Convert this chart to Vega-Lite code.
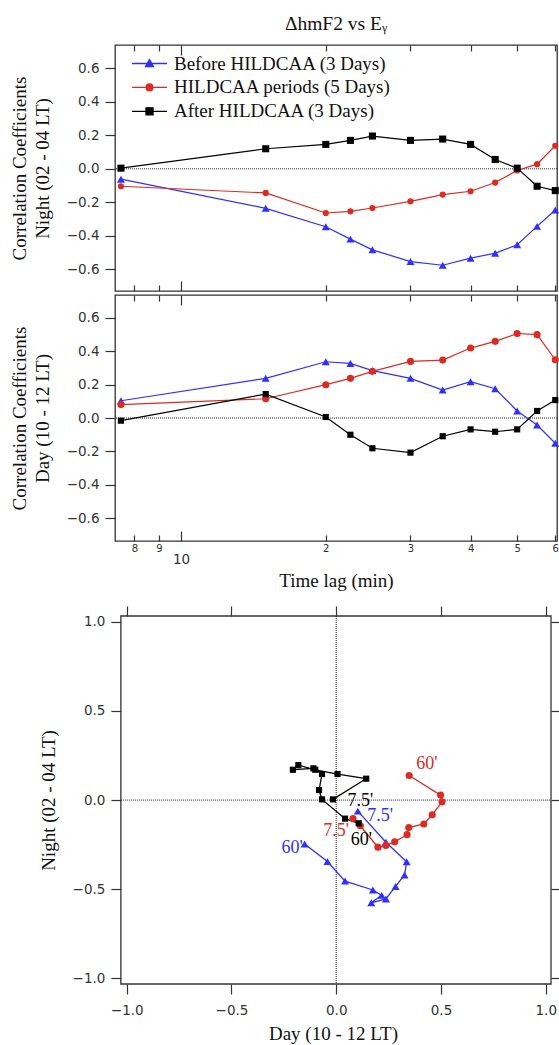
{
  "$schema": "https://vega.github.io/schema/vega-lite/v6.json",
  "background": "white",
  "padding": {"left": 10, "top": 13, "right": 0, "bottom": 0},
  "config": {
    "view": {"stroke": "#333333", "strokeWidth": 1.3},
    "axis": {"domain": false, "grid": false, "tickColor": "#333333", "tickWidth": 1.2, "labelFont": "DejaVu Sans", "labelFontSize": 13.5, "labelColor": "#333333", "titleFont": "Liberation Serif", "titleFontSize": 19, "titleFontWeight": "normal", "titleColor": "#111111", "labelFlush": false, "labelOverlap": false},
    "title": {"font": "Liberation Serif", "fontWeight": "normal", "fontSize": 19.5, "color": "#111111"}
  },
  "datasets": {
    "corr": [
      {"lag": 7.5, "series": "Before HILDCAA (3 Days)", "night": -0.062, "day": 0.103},
      {"lag": 15, "series": "Before HILDCAA (3 Days)", "night": -0.236, "day": 0.237},
      {"lag": 20, "series": "Before HILDCAA (3 Days)", "night": -0.346, "day": 0.336},
      {"lag": 22.5, "series": "Before HILDCAA (3 Days)", "night": -0.42, "day": 0.326},
      {"lag": 25, "series": "Before HILDCAA (3 Days)", "night": -0.484, "day": 0.283},
      {"lag": 30, "series": "Before HILDCAA (3 Days)", "night": -0.554, "day": 0.237},
      {"lag": 35, "series": "Before HILDCAA (3 Days)", "night": -0.576, "day": 0.167},
      {"lag": 40, "series": "Before HILDCAA (3 Days)", "night": -0.534, "day": 0.217},
      {"lag": 45, "series": "Before HILDCAA (3 Days)", "night": -0.504, "day": 0.175},
      {"lag": 50, "series": "Before HILDCAA (3 Days)", "night": -0.454, "day": 0.042},
      {"lag": 55, "series": "Before HILDCAA (3 Days)", "night": -0.344, "day": -0.042},
      {"lag": 60, "series": "Before HILDCAA (3 Days)", "night": -0.246, "day": -0.151},
      {"lag": 7.5, "series": "HILDCAA periods (5 Days)", "night": -0.104, "day": 0.08},
      {"lag": 15, "series": "HILDCAA periods (5 Days)", "night": -0.144, "day": 0.115},
      {"lag": 20, "series": "HILDCAA periods (5 Days)", "night": -0.264, "day": 0.199},
      {"lag": 22.5, "series": "HILDCAA periods (5 Days)", "night": -0.254, "day": 0.237},
      {"lag": 25, "series": "HILDCAA periods (5 Days)", "night": -0.234, "day": 0.279},
      {"lag": 30, "series": "HILDCAA periods (5 Days)", "night": -0.194, "day": 0.338},
      {"lag": 35, "series": "HILDCAA periods (5 Days)", "night": -0.154, "day": 0.346},
      {"lag": 40, "series": "HILDCAA periods (5 Days)", "night": -0.134, "day": 0.418},
      {"lag": 45, "series": "HILDCAA periods (5 Days)", "night": -0.082, "day": 0.458},
      {"lag": 50, "series": "HILDCAA periods (5 Days)", "night": -0.01, "day": 0.505},
      {"lag": 55, "series": "HILDCAA periods (5 Days)", "night": 0.028, "day": 0.498},
      {"lag": 60, "series": "HILDCAA periods (5 Days)", "night": 0.138, "day": 0.348},
      {"lag": 7.5, "series": "After HILDCAA (3 Days)", "night": 0.004, "day": -0.016},
      {"lag": 15, "series": "After HILDCAA (3 Days)", "night": 0.12, "day": 0.143},
      {"lag": 20, "series": "After HILDCAA (3 Days)", "night": 0.146, "day": 0.006},
      {"lag": 22.5, "series": "After HILDCAA (3 Days)", "night": 0.17, "day": -0.1},
      {"lag": 25, "series": "After HILDCAA (3 Days)", "night": 0.196, "day": -0.181},
      {"lag": 30, "series": "After HILDCAA (3 Days)", "night": 0.17, "day": -0.207},
      {"lag": 35, "series": "After HILDCAA (3 Days)", "night": 0.178, "day": -0.109},
      {"lag": 40, "series": "After HILDCAA (3 Days)", "night": 0.146, "day": -0.068},
      {"lag": 45, "series": "After HILDCAA (3 Days)", "night": 0.056, "day": -0.082},
      {"lag": 50, "series": "After HILDCAA (3 Days)", "night": 0.004, "day": -0.068},
      {"lag": 55, "series": "After HILDCAA (3 Days)", "night": -0.104, "day": 0.042},
      {"lag": 60, "series": "After HILDCAA (3 Days)", "night": -0.13, "day": 0.107}
    ],
    "labels": [
      {"series": "After HILDCAA (3 Days)", "label": "7.5'", "day": 0.115, "night": -0.004},
      {"series": "Before HILDCAA (3 Days)", "label": "7.5'", "day": 0.21, "night": -0.088},
      {"series": "HILDCAA periods (5 Days)", "label": "7.5'", "day": 0.0, "night": -0.174},
      {"series": "After HILDCAA (3 Days)", "label": "60'", "day": 0.12, "night": -0.224},
      {"series": "HILDCAA periods (5 Days)", "label": "60'", "day": 0.433, "night": 0.2},
      {"series": "Before HILDCAA (3 Days)", "label": "60'", "day": -0.21, "night": -0.267}
    ],
    "one": [{"z": 0}]
  },
  "vconcat": [
    {
      "vconcat": [
        {
          "width": 442,
          "height": 246,
          "title": {"text": "ΔhmF2 vs Eᵧ", "offset": 10},
          "data": {"name": "corr"},
          "layer": [
            {
              "data": {"name": "one"},
              "mark": {"type": "rule", "strokeDash": [1, 1], "color": "#222222", "strokeWidth": 1},
              "encoding": {"y": {"datum": 0, "type": "quantitative", "scale": {"domain": [-0.73, 0.74], "nice": false, "zero": false}, "axis": {"values": [-0.6, -0.4, -0.2, 0, 0.2, 0.4, 0.6], "format": ".1f", "tickSize": 10, "labelPadding": 6, "title": ["Correlation Coefficients", "Night (02 - 04 LT)"], "titleLineHeight": 22.5, "titlePadding": 14}}}
            },
            {
              "mark": {"type": "line", "strokeWidth": 1.2},
              "encoding": {
                "x": {"field": "lag", "type": "quantitative", "scale": {"type": "log", "domain": [7.29, 60.5], "nice": false}, "axis": {"orient": "bottom", "values": [8, 9, 10, 20, 30, 40, 50, 60], "labels": false, "title": null, "tickSize": {"condition": {"test": "datum.value == 10", "value": -10}, "value": -6}}},
                "y": {"field": "night", "type": "quantitative", "scale": {"domain": [-0.73, 0.74], "nice": false, "zero": false}, "axis": {"values": [-0.6, -0.4, -0.2, 0, 0.2, 0.4, 0.6], "format": ".1f", "tickSize": 10, "labelPadding": 6, "title": ["Correlation Coefficients", "Night (02 - 04 LT)"], "titleLineHeight": 22.5, "titlePadding": 14}},
                "color": {"field": "series", "type": "nominal", "scale": {"domain": ["Before HILDCAA (3 Days)", "HILDCAA periods (5 Days)", "After HILDCAA (3 Days)"], "range": ["#2f2fff", "#dc2b22", "#000000"]},
                  "legend": {"orient": "none", "legendX": 25, "legendY": 9, "title": null, "padding": 0, "labelFont": "Liberation Serif", "labelFontSize": 19, "labelColor": "#111111", "labelLimit": 0, "symbolSize": 100, "labelOffset": 15, "rowPadding": 3.9, "symbolStrokeWidth": 1.3, "symbolOpacity": 1,
                    "encode": {"symbols": {"update": {
                      "stroke": {"signal": "datum.value === 'Before HILDCAA (3 Days)' ? '#2f2fff' : datum.value === 'HILDCAA periods (5 Days)' ? '#dc2b22' : '#000000'"},
                      "fill": {"signal": "datum.value === 'Before HILDCAA (3 Days)' ? '#2f2fff' : datum.value === 'HILDCAA periods (5 Days)' ? '#dc2b22' : '#000000'"},
                      "strokeWidth": {"value": 1.3},
                      "opacity": {"value": 1}
                    }}}}}
              }
            },
            {
              "transform": [{"filter": "datum.lag < 0"}],
              "mark": {"type": "point", "filled": false},
              "encoding": {
                "x": {"field": "lag", "type": "quantitative", "scale": {"type": "log", "domain": [7.29, 60.5], "nice": false}, "axis": {"orient": "top", "values": [8, 9, 10, 20, 30, 40, 50, 60], "labels": false, "title": null, "tickSize": {"condition": {"test": "datum.value == 10", "value": -10}, "value": -6}}},
                "y": {"field": "night", "type": "quantitative", "axis": {"values": [-0.6, -0.4, -0.2, 0, 0.2, 0.4, 0.6], "format": ".1f", "tickSize": 10, "labelPadding": 6, "title": ["Correlation Coefficients", "Night (02 - 04 LT)"], "titleLineHeight": 22.5, "titlePadding": 14}},
                "color": {"field": "series", "type": "nominal", "scale": {"domain": ["Before HILDCAA (3 Days)", "HILDCAA periods (5 Days)", "After HILDCAA (3 Days)"], "range": ["#2f2fff", "#dc2b22", "#000000"]},
                  "legend": {"orient": "none", "legendX": 25, "legendY": 9, "title": null, "padding": 0, "labelFont": "Liberation Serif", "labelFontSize": 19, "labelColor": "#111111", "labelLimit": 0, "symbolSize": 100, "labelOffset": 15, "rowPadding": 3.9, "symbolStrokeWidth": 1.3, "symbolOpacity": 1,
                    "encode": {"symbols": {"update": {
                      "stroke": {"signal": "datum.value === 'Before HILDCAA (3 Days)' ? '#2f2fff' : datum.value === 'HILDCAA periods (5 Days)' ? '#dc2b22' : '#000000'"},
                      "fill": {"signal": "datum.value === 'Before HILDCAA (3 Days)' ? '#2f2fff' : datum.value === 'HILDCAA periods (5 Days)' ? '#dc2b22' : '#000000'"},
                      "strokeWidth": {"value": 1.3},
                      "opacity": {"value": 1}
                    }}}}},
                "shape": {"field": "series", "type": "nominal", "scale": {"domain": ["Before HILDCAA (3 Days)", "HILDCAA periods (5 Days)", "After HILDCAA (3 Days)"], "range": ["M-3.5,0H3.5M0,-0.8L0.8,0.6L-0.8,0.6Z", "M-3.5,0H3.5M0.68,0A0.68,0.68,0,1,1,-0.68,0A0.68,0.68,0,1,1,0.68,0Z", "M-3.5,0H3.5M-0.7,-0.7H0.7V0.7H-0.7Z"]},
                  "legend": {"orient": "none", "legendX": 25, "legendY": 9, "title": null, "padding": 0, "labelFont": "Liberation Serif", "labelFontSize": 19, "labelColor": "#111111", "labelLimit": 0, "symbolSize": 100, "labelOffset": 15, "rowPadding": 3.9, "symbolStrokeWidth": 1.3, "symbolOpacity": 1,
                    "encode": {"symbols": {"update": {
                      "stroke": {"signal": "datum.value === 'Before HILDCAA (3 Days)' ? '#2f2fff' : datum.value === 'HILDCAA periods (5 Days)' ? '#dc2b22' : '#000000'"},
                      "fill": {"signal": "datum.value === 'Before HILDCAA (3 Days)' ? '#2f2fff' : datum.value === 'HILDCAA periods (5 Days)' ? '#dc2b22' : '#000000'"},
                      "strokeWidth": {"value": 1.3},
                      "opacity": {"value": 1}
                    }}}}}
              }
            },
            {
              "transform": [{"filter": "datum.series === 'Before HILDCAA (3 Days)'"}],
              "mark": {"type": "point", "shape": "triangle-up", "filled": true, "opacity": 1, "color": "#2f2fff", "size": 64},
              "encoding": {
                "x": {"field": "lag", "type": "quantitative", "axis": null},
                "y": {"field": "night", "type": "quantitative", "axis": {"values": [-0.6, -0.4, -0.2, 0, 0.2, 0.4, 0.6], "format": ".1f", "tickSize": 10, "labelPadding": 6, "title": ["Correlation Coefficients", "Night (02 - 04 LT)"], "titleLineHeight": 22.5, "titlePadding": 14}}
              }
            },
            {
              "transform": [{"filter": "datum.series === 'HILDCAA periods (5 Days)'"}],
              "mark": {"type": "point", "shape": "circle", "filled": true, "opacity": 1, "color": "#dc2b22", "size": 38},
              "encoding": {
                "x": {"field": "lag", "type": "quantitative", "axis": null},
                "y": {"field": "night", "type": "quantitative", "axis": {"values": [-0.6, -0.4, -0.2, 0, 0.2, 0.4, 0.6], "format": ".1f", "tickSize": 10, "labelPadding": 6, "title": ["Correlation Coefficients", "Night (02 - 04 LT)"], "titleLineHeight": 22.5, "titlePadding": 14}}
              }
            },
            {
              "transform": [{"filter": "datum.series === 'After HILDCAA (3 Days)'"}],
              "mark": {"type": "point", "shape": "square", "filled": true, "opacity": 1, "color": "#000000", "size": 50},
              "encoding": {
                "x": {"field": "lag", "type": "quantitative", "axis": null},
                "y": {"field": "night", "type": "quantitative", "axis": {"values": [-0.6, -0.4, -0.2, 0, 0.2, 0.4, 0.6], "format": ".1f", "tickSize": 10, "labelPadding": 6, "title": ["Correlation Coefficients", "Night (02 - 04 LT)"], "titleLineHeight": 22.5, "titlePadding": 14}}
              }
            }
          ],
          "resolve": {"axis": {"x": "independent"}}
        },
        {
          "width": 442,
          "height": 246,
          "data": {"name": "corr"},
          "layer": [
            {
              "data": {"name": "one"},
              "mark": {"type": "rule", "strokeDash": [1, 1], "color": "#222222", "strokeWidth": 1},
              "encoding": {"y": {"datum": 0, "type": "quantitative", "scale": {"domain": [-0.735, 0.735], "nice": false, "zero": false}, "axis": {"values": [-0.6, -0.4, -0.2, 0, 0.2, 0.4, 0.6], "format": ".1f", "tickSize": 10, "labelPadding": 6, "title": ["Correlation Coefficients", "Day (10 - 12 LT)"], "titleLineHeight": 22.5, "titlePadding": 14}}}
            },
            {
              "mark": {"type": "line", "strokeWidth": 1.2},
              "encoding": {
                "x": {"field": "lag", "type": "quantitative", "scale": {"type": "log", "domain": [7.29, 60.5], "nice": false}, "axis": {"orient": "bottom", "values": [8, 9, 10, 20, 30, 40, 50, 60], "labelExpr": "datum.value >= 20 ? '' + (datum.value / 10) : '' + datum.value", "tickSize": {"condition": {"test": "datum.value == 10", "value": -10}, "value": -6}, "labelFontSize": {"condition": {"test": "datum.value == 10", "value": 13.5}, "value": 10}, "labelPadding": {"condition": {"test": "datum.value == 10", "value": 21}, "value": 8}, "title": "Time lag (min)", "titlePadding": 6}},
                "y": {"field": "day", "type": "quantitative", "scale": {"domain": [-0.735, 0.735], "nice": false, "zero": false}, "axis": {"values": [-0.6, -0.4, -0.2, 0, 0.2, 0.4, 0.6], "format": ".1f", "tickSize": 10, "labelPadding": 6, "title": ["Correlation Coefficients", "Day (10 - 12 LT)"], "titleLineHeight": 22.5, "titlePadding": 14}},
                "color": {"field": "series", "type": "nominal", "scale": {"domain": ["Before HILDCAA (3 Days)", "HILDCAA periods (5 Days)", "After HILDCAA (3 Days)"], "range": ["#2f2fff", "#dc2b22", "#000000"]}, "legend": null}
              }
            },
            {
              "mark": {"type": "point", "filled": true, "opacity": 1},
              "encoding": {
                "x": {"field": "lag", "type": "quantitative", "scale": {"type": "log", "domain": [7.29, 60.5], "nice": false}, "axis": {"orient": "top", "values": [8, 9, 10, 20, 30, 40, 50, 60], "labels": false, "title": null, "tickSize": {"condition": {"test": "datum.value == 10", "value": -10}, "value": -6}}},
                "y": {"field": "day", "type": "quantitative", "axis": {"values": [-0.6, -0.4, -0.2, 0, 0.2, 0.4, 0.6], "format": ".1f", "tickSize": 10, "labelPadding": 6, "title": ["Correlation Coefficients", "Day (10 - 12 LT)"], "titleLineHeight": 22.5, "titlePadding": 14}},
                "color": {"field": "series", "type": "nominal", "scale": {"domain": ["Before HILDCAA (3 Days)", "HILDCAA periods (5 Days)", "After HILDCAA (3 Days)"], "range": ["#2f2fff", "#dc2b22", "#000000"]}, "legend": null},
                "shape": {"field": "series", "type": "nominal", "scale": {"domain": ["Before HILDCAA (3 Days)", "HILDCAA periods (5 Days)", "After HILDCAA (3 Days)"], "range": ["triangle-up", "circle", "square"]}, "legend": null},
                "size": {"field": "series", "type": "nominal", "scale": {"domain": ["Before HILDCAA (3 Days)", "HILDCAA periods (5 Days)", "After HILDCAA (3 Days)"], "range": [64, 38, 50]}, "legend": null}
              }
            }
          ],
          "resolve": {"axis": {"x": "independent"}}
        }
      ],
      "spacing": 0,
      "resolve": {"scale": {"shape": "independent"}, "legend": {"color": "independent", "shape": "independent", "size": "independent"}}
    },
    {
      "width": 436,
      "height": 368,
      "view": {"stroke": null},
      "data": {"name": "corr"},
      "layer": [
        {
          "data": {"name": "one"},
          "mark": {"type": "rect", "filled": false, "stroke": "#333333", "strokeWidth": 1.3},
          "encoding": {
            "x": {"datum": -1.028, "type": "quantitative", "scale": {"domain": [-1.056, 1.025], "nice": false, "zero": false}, "axis": null},
            "x2": {"datum": 1.025},
            "y": {"datum": -1.031, "type": "quantitative", "scale": {"domain": [-1.031, 1.032], "nice": false, "zero": false}, "axis": null},
            "y2": {"datum": 1.032}
          }
        },
        {
          "data": {"name": "one"},
          "mark": {"type": "rule", "strokeDash": [1, 1], "color": "#222222", "strokeWidth": 1},
          "encoding": {"y": {"datum": 0, "type": "quantitative", "axis": null}, "x": {"datum": -1.028, "type": "quantitative", "axis": null}, "x2": {"datum": 1.025}}
        },
        {
          "data": {"name": "one"},
          "mark": {"type": "rule", "strokeDash": [1, 1], "color": "#222222", "strokeWidth": 1},
          "encoding": {"x": {"datum": 0, "type": "quantitative", "axis": null}}
        },
        {
          "mark": {"type": "line", "strokeWidth": 1.3},
          "encoding": {
            "x": {"field": "day", "type": "quantitative", "axis": {"orient": "bottom", "values": [-1, -0.5, 0, 0.5, 1], "format": ".1f", "tickSize": 10, "labelPadding": 9, "title": "Day (10 - 12 LT)", "titlePadding": 8}},
            "y": {"field": "night", "type": "quantitative", "axis": {"orient": "left", "offset": -5.9, "values": [-1, -0.5, 0, 0.5, 1], "format": ".1f", "tickSize": 10, "labelPadding": 6, "title": "Night (02 - 04 LT)", "titlePadding": 14}},
            "color": {"field": "series", "type": "nominal", "scale": {"domain": ["Before HILDCAA (3 Days)", "HILDCAA periods (5 Days)", "After HILDCAA (3 Days)"], "range": ["#2f2fff", "#dc2b22", "#000000"]}, "legend": null},
            "order": {"field": "lag", "type": "quantitative"}
          }
        },
        {
          "mark": {"type": "point", "filled": true, "opacity": 1},
          "encoding": {
            "x": {"field": "day", "type": "quantitative", "axis": {"orient": "top", "values": [-1, -0.5, 0, 0.5, 1], "labels": false, "tickSize": 10, "title": null}},
            "y": {"field": "night", "type": "quantitative", "axis": {"orient": "right", "values": [-1, -0.5, 0, 0.5, 1], "labels": false, "tickSize": 10, "title": null}},
            "color": {"field": "series", "type": "nominal", "scale": {"domain": ["Before HILDCAA (3 Days)", "HILDCAA periods (5 Days)", "After HILDCAA (3 Days)"], "range": ["#2f2fff", "#dc2b22", "#000000"]}, "legend": null},
            "shape": {"field": "series", "type": "nominal", "scale": {"domain": ["Before HILDCAA (3 Days)", "HILDCAA periods (5 Days)", "After HILDCAA (3 Days)"], "range": ["triangle-up", "circle", "square"]}, "legend": null},
            "size": {"field": "series", "type": "nominal", "scale": {"domain": ["Before HILDCAA (3 Days)", "HILDCAA periods (5 Days)", "After HILDCAA (3 Days)"], "range": [76, 46, 62]}, "legend": null}
          }
        },
        {
          "data": {"name": "labels"},
          "mark": {"type": "text", "font": "Liberation Serif", "fontSize": 18, "align": "center", "baseline": "middle"},
          "encoding": {
            "x": {"field": "day", "type": "quantitative", "axis": null},
            "y": {"field": "night", "type": "quantitative", "axis": null},
            "text": {"field": "label"},
            "color": {"field": "series", "type": "nominal", "scale": {"domain": ["Before HILDCAA (3 Days)", "HILDCAA periods (5 Days)", "After HILDCAA (3 Days)"], "range": ["#2f2fff", "#dc2b22", "#000000"]}, "legend": null}
          }
        }
      ],
      "resolve": {"axis": {"x": "independent", "y": "independent"}}
    }
  ],
  "spacing": 13,
  "resolve": {"scale": {"shape": "independent"}, "legend": {"color": "independent", "shape": "independent", "size": "independent"}}
}
